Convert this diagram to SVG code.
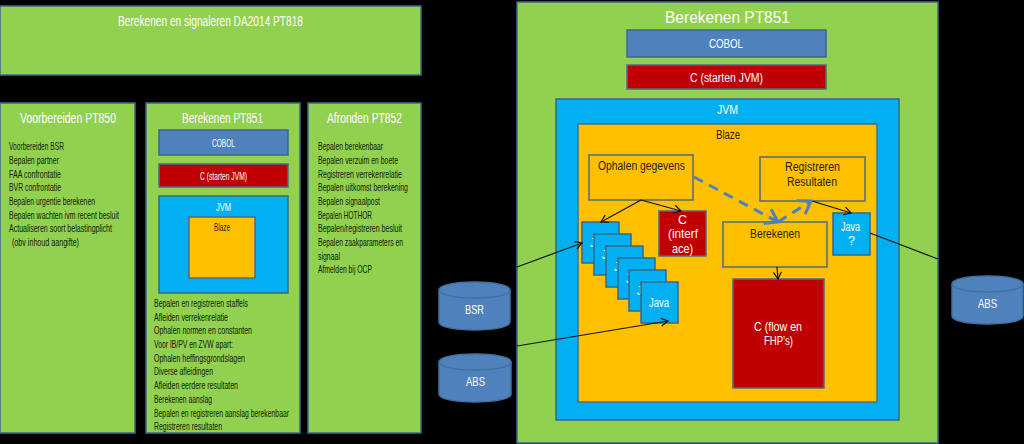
<svg xmlns="http://www.w3.org/2000/svg" width="1024" height="444" viewBox="0 0 1024 444">
<style>
text{font-family:"Liberation Sans",Arial,sans-serif}
.g{fill:#92d050;stroke:#3a6a8c;stroke-width:1.5}
.b{fill:#4f81bd;stroke:#3b6492;stroke-width:1.5}
.r{fill:#c00000;stroke:#4f6a84;stroke-width:1.5}
.j{fill:#00b0f0;stroke:#35658f;stroke-width:1.5}
.o{fill:#ffc000;stroke:#4f6a84;stroke-width:1.5}
.w{fill:#fff}.k{fill:#102000}.d{fill:#2a2000}
.t1{font-size:15px}.t2{font-size:10.5px}.t3{font-size:12.500px}
.ln{fill:none;stroke:#111;stroke-width:1.2}
.ds{fill:none;stroke:#4f81bd;stroke-width:3;stroke-dasharray:10 7}
.cy{fill:#4f81bd;stroke:#41719c;stroke-width:1.5}
</style>
<defs>
<marker id="a" markerWidth="10" markerHeight="10" refX="8" refY="5" orient="auto" markerUnits="userSpaceOnUse"><path d="M1 1L8 5L1 9" fill="none" stroke="#111" stroke-width="1.2"/></marker>
<marker id="ab" markerWidth="20" markerHeight="20" refX="14" refY="10" orient="auto" markerUnits="userSpaceOnUse"><path d="M2 2L14 10L2 18" fill="none" stroke="#4f81bd" stroke-width="3"/></marker>
</defs>
<rect width="1024" height="444" fill="#000"/>
<g id="top"><rect class="g" x="0" y="6" width="421" height="69"/><text class="w t1" x="118" y="25.500" textLength="185" lengthAdjust="spacingAndGlyphs">Berekenen en signaleren DA2014 PT818</text></g>
<g id="pt850"><rect class="g" x="0" y="103" width="135" height="330"/><text class="w t1" x="20" y="122.500" textLength="96" lengthAdjust="spacingAndGlyphs">Voorbereiden PT850</text>
<g class="k t2">
<text x="9" y="150" textLength="55" lengthAdjust="spacingAndGlyphs">Voorbereiden BSR</text>
<text x="9" y="164" textLength="50" lengthAdjust="spacingAndGlyphs">Bepalen partner</text>
<text x="9" y="178" textLength="52" lengthAdjust="spacingAndGlyphs">FAA confrontatie</text>
<text x="9" y="191" textLength="52" lengthAdjust="spacingAndGlyphs">BVR confrontatie</text>
<text x="9" y="205" textLength="86" lengthAdjust="spacingAndGlyphs">Bepalen urgentie berekenen</text>
<text x="9" y="219" textLength="110" lengthAdjust="spacingAndGlyphs">Bepalen wachten ivm recent besluit</text>
<text x="9" y="232" textLength="103" lengthAdjust="spacingAndGlyphs">Actualiseren soort belastingplicht</text>
<text x="12" y="246" textLength="67" lengthAdjust="spacingAndGlyphs">(obv inhoud aangifte)</text>
</g></g>
<g id="pt851small"><rect class="g" x="146" y="103" width="154" height="330"/><text class="w t1" x="182" y="122.500" textLength="81" lengthAdjust="spacingAndGlyphs">Berekenen PT851</text>
<rect class="b" x="159" y="130" width="129" height="25"/><text class="w t2" x="212" y="147" textLength="23" lengthAdjust="spacingAndGlyphs">COBOL</text>
<rect class="r" x="159" y="164" width="129" height="23"/><text class="w t2" x="200" y="180" textLength="47" lengthAdjust="spacingAndGlyphs">C (starten JVM)</text>
<rect class="j" x="159" y="196" width="129" height="97"/><text class="w t2" x="216" y="211" textLength="15" lengthAdjust="spacingAndGlyphs">JVM</text>
<rect class="o" x="189" y="217" width="66" height="61"/><text class="d t2" x="214" y="231" textLength="16" lengthAdjust="spacingAndGlyphs">Blaze</text>
<g class="k t2">
<text x="154" y="307" textLength="94" lengthAdjust="spacingAndGlyphs">Bepalen en registreren staffels</text>
<text x="154" y="321" textLength="74" lengthAdjust="spacingAndGlyphs">Afleiden verrekenrelatie</text>
<text x="154" y="334" textLength="98" lengthAdjust="spacingAndGlyphs">Ophalen normen en constanten</text>
<text x="154" y="348" textLength="79" lengthAdjust="spacingAndGlyphs">Voor IB/PV en ZVW apart:</text>
<text x="154" y="362" textLength="91" lengthAdjust="spacingAndGlyphs">Ophalen heffingsgrondslagen</text>
<text x="154" y="375" textLength="59" lengthAdjust="spacingAndGlyphs">Diverse afleidingen</text>
<text x="154" y="389" textLength="84" lengthAdjust="spacingAndGlyphs">Afleiden eerdere resultaten</text>
<text x="154" y="403" textLength="58" lengthAdjust="spacingAndGlyphs">Berekenen aanslag</text>
<text x="154" y="417" textLength="135" lengthAdjust="spacingAndGlyphs">Bepalen en registreren aanslag berekenbaar</text>
<text x="154" y="430" textLength="68" lengthAdjust="spacingAndGlyphs">Registreren resultaten</text>
</g></g>
<g id="pt852"><rect class="g" x="308" y="103" width="113" height="330"/><text class="w t1" x="327" y="122.500" textLength="75" lengthAdjust="spacingAndGlyphs">Afronden PT852</text>
<g class="k t2">
<text x="318" y="150" textLength="65" lengthAdjust="spacingAndGlyphs">Bepalen berekenbaar</text>
<text x="318" y="164" textLength="80" lengthAdjust="spacingAndGlyphs">Bepalen verzuim en boete</text>
<text x="318" y="178" textLength="84" lengthAdjust="spacingAndGlyphs">Registreren verrekenrelatie</text>
<text x="318" y="191" textLength="90" lengthAdjust="spacingAndGlyphs">Bepalen uitkomst berekening</text>
<text x="318" y="205" textLength="62" lengthAdjust="spacingAndGlyphs">Bepalen signaalpost</text>
<text x="318" y="219" textLength="54" lengthAdjust="spacingAndGlyphs">Bepalen HOTHOR</text>
<text x="318" y="232" textLength="84" lengthAdjust="spacingAndGlyphs">Bepalen/registreren besluit</text>
<text x="318" y="246" textLength="85" lengthAdjust="spacingAndGlyphs">Bepalen zaakparameters en</text>
<text x="318" y="260" textLength="22" lengthAdjust="spacingAndGlyphs">signaal</text>
<text x="318" y="273" textLength="54" lengthAdjust="spacingAndGlyphs">Afmelden bij OCP</text>
</g></g>
<g id="pt851large"><rect class="g" x="517" y="2" width="421" height="441"/><text class="w" font-size="16.500" x="665" y="23" textLength="125" lengthAdjust="spacingAndGlyphs">Berekenen PT851</text></g>
<g id="cobol"><rect class="b" x="627" y="30" width="199" height="27"/><text class="w t3" x="709" y="48" textLength="34" lengthAdjust="spacingAndGlyphs">COBOL</text></g>
<g id="cjvm"><rect class="r" x="627" y="65" width="199" height="24"/><text class="w t3" x="690" y="82" textLength="73" lengthAdjust="spacingAndGlyphs">C (starten JVM)</text></g>
<g id="jvm"><rect class="j" x="556" y="99" width="343" height="321"/><text class="w t3" x="717" y="114" textLength="21" lengthAdjust="spacingAndGlyphs">JVM</text></g>
<g id="blaze"><rect class="o" x="578" y="124" width="299" height="278"/><text class="d t3" x="716" y="139" textLength="24" lengthAdjust="spacingAndGlyphs">Blaze</text></g>
<g id="ophalen"><rect class="o" x="589" y="155" width="104" height="45"/><text class="d t3" x="598" y="170" textLength="87" lengthAdjust="spacingAndGlyphs">Ophalen gegevens</text></g>
<g id="registreren"><rect class="o" x="760" y="157" width="105" height="44"/><text class="d t3" x="785" y="171" textLength="55" lengthAdjust="spacingAndGlyphs">Registreren</text><text class="d t3" x="787" y="186" textLength="50" lengthAdjust="spacingAndGlyphs">Resultaten</text></g>
<g id="cinterface"><rect class="r" x="659" y="211" width="47" height="45"/><g class="w t3"><text x="678" y="224">C</text><text x="668" y="238" textLength="30" lengthAdjust="spacingAndGlyphs">(interf</text><text x="672" y="253" textLength="21" lengthAdjust="spacingAndGlyphs">ace)</text></g></g>
<g id="berekenen"><rect class="o" x="723" y="222" width="104" height="45"/><text class="d t3" x="750" y="238" textLength="50" lengthAdjust="spacingAndGlyphs">Berekenen</text></g>
<g id="cflow"><rect class="r" x="733" y="279" width="91" height="109"/><text class="w t3" x="754" y="331" textLength="48" lengthAdjust="spacingAndGlyphs">C (flow en</text><text class="w t3" x="764" y="345" textLength="29" lengthAdjust="spacingAndGlyphs">FHP’s)</text></g>
<g id="javaq"><rect class="j" x="833" y="213" width="37" height="42"/><text class="w t3" x="841" y="231" textLength="19" lengthAdjust="spacingAndGlyphs">Java</text><text class="w t3" x="848" y="245">?</text></g>
<g id="java1"><rect class="j" x="582" y="222" width="37" height="41"/><text class="w t3" x="590" y="247" textLength="20" lengthAdjust="spacingAndGlyphs">Java</text></g>
<g id="java2"><rect class="j" x="594" y="234" width="37" height="41"/><text class="w t3" x="602" y="259" textLength="20" lengthAdjust="spacingAndGlyphs">Java</text></g>
<g id="java3"><rect class="j" x="606" y="246" width="37" height="41"/><text class="w t3" x="614" y="271" textLength="20" lengthAdjust="spacingAndGlyphs">Java</text></g>
<g id="java4"><rect class="j" x="618" y="258" width="37" height="41"/><text class="w t3" x="626" y="283" textLength="20" lengthAdjust="spacingAndGlyphs">Java</text></g>
<g id="java5"><rect class="j" x="629" y="270" width="37" height="41"/><text class="w t3" x="637" y="295" textLength="20" lengthAdjust="spacingAndGlyphs">Java</text></g>
<g id="java6"><rect class="j" x="641" y="282" width="37" height="41"/><text class="w t3" x="649" y="307" textLength="20" lengthAdjust="spacingAndGlyphs">Java</text></g>
<g id="bsr"><path class="cy" d="M439 290C439 285 455 282 474.500 282C494 282 510 285 510 290V322C510 327 494 330 474.500 330C455 330 439 327 439 322Z"/><path d="M439 290C439 295 455 298 474.500 298C494 298 510 295 510 290" fill="none" stroke="#41719c" stroke-width="1.5"/><text class="w t3" x="465" y="314" textLength="19" lengthAdjust="spacingAndGlyphs">BSR</text></g>
<g id="abs1"><path class="cy" d="M439 362C439 357 455 354 475 354C495 354 511 357 511 362V394C511 399 495 402 475 402C455 402 439 399 439 394Z"/><path d="M439 362C439 367 455 370 475 370C495 370 511 367 511 362" fill="none" stroke="#41719c" stroke-width="1.500"/><text class="w t3" x="466" y="386" textLength="19" lengthAdjust="spacingAndGlyphs">ABS</text></g>
<g id="abs2"><path class="cy" d="M952 284C952 279 968 276 987.500 276C1007 276 1023 279 1023 284V316C1023 321 1007 324 987.500 324C968 324 952 321 952 316Z"/><path d="M952 284C952 289 968 292 987.500 292C1007 292 1023 289 1023 284" fill="none" stroke="#41719c" stroke-width="1.500"/><text class="w t3" x="978" y="308" textLength="19" lengthAdjust="spacingAndGlyphs">ABS</text></g>
<g id="connectors">
<path class="ln" marker-end="url(#a)" d="M641 200L601 222"/>
<path class="ln" marker-end="url(#a)" d="M641 200L681 211"/>
<path class="ln" marker-end="url(#a)" d="M812 201L851 213"/>
<path class="ln" marker-end="url(#a)" d="M777 267L778 279"/>
<path class="ln" marker-end="url(#a)" d="M517 267L582 243"/>
<path class="ln" marker-end="url(#a)" d="M517 346L668 321"/>
<path class="ln" d="M870 233L938 259"/>
<path class="ds" marker-end="url(#ab)" d="M694 177L778 222"/>
<path class="ds" marker-end="url(#ab)" d="M778 222L811 201"/>
</g>
</svg>
